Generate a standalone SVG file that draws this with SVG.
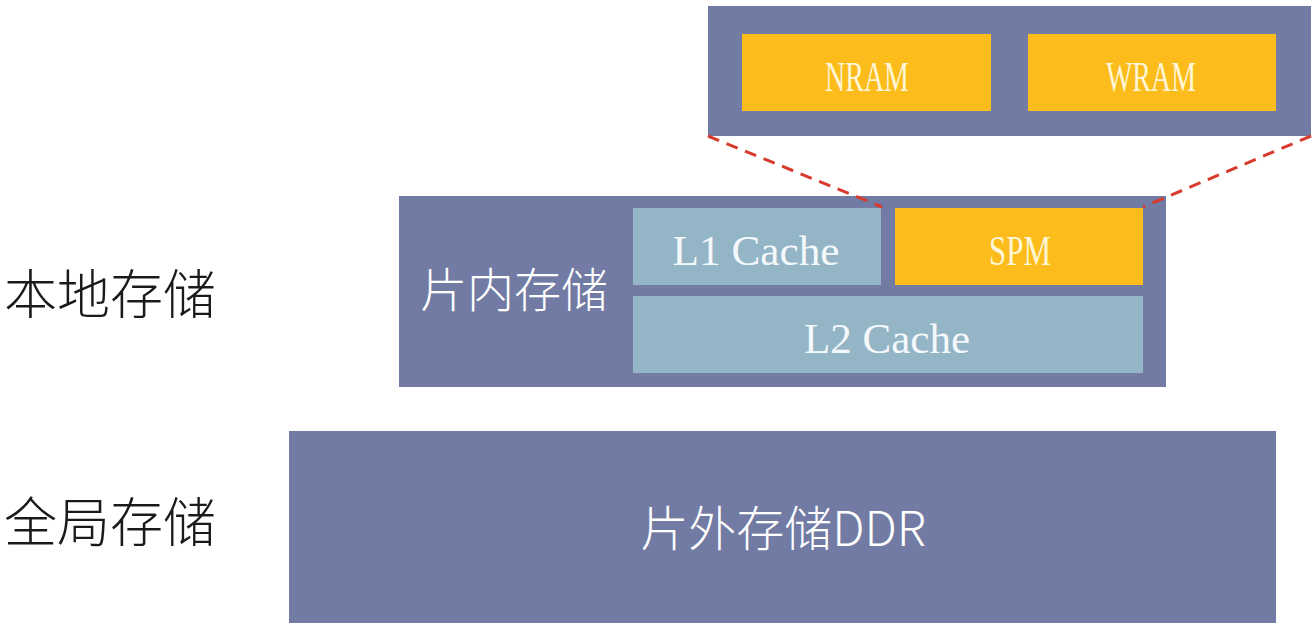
<svg xmlns="http://www.w3.org/2000/svg" width="1316" height="632" viewBox="0 0 1316 632">
<style>
.blue{fill:#717ba3}
.org{fill:#fbbc1c}
.lb{fill:#93b5c6}
.ser{font-family:"Liberation Serif","DejaVu Serif",serif;font-size:42px;text-anchor:middle}
.cw{fill:#fff6d6}
.ww{fill:#f4f8fb}
.cjk{font-family:"Noto Sans CJK SC","Noto Sans",sans-serif;font-weight:300}
.dash{stroke:#d93a2e;stroke-width:3;stroke-dasharray:12 8;fill:none}
</style>
<rect width="1316" height="632" fill="#ffffff"/>
<g id="label-local"><text class="cjk" x="4" y="314" font-size="53" fill="#1a1a1a">本地存储</text></g>
<g id="label-global"><text class="cjk" x="4" y="542" font-size="53" fill="#1a1a1a">全局存储</text></g>
<g id="spm-detail">
<rect class="blue" x="708" y="6" width="603" height="130"/>
<g id="nram"><rect class="org" x="742" y="34" width="249" height="77"/><text class="ser cw" x="867" y="91" textLength="84" lengthAdjust="spacingAndGlyphs">NRAM</text></g>
<g id="wram"><rect class="org" x="1028" y="34" width="248" height="77"/><text class="ser cw" x="1151" y="91" textLength="90" lengthAdjust="spacingAndGlyphs">WRAM</text></g>
</g>
<g id="onchip">
<rect class="blue" x="399" y="196" width="767" height="191"/>
<text class="cjk" x="420" y="307" font-size="47" fill="#ffffff">片内存储</text>
<g id="l1"><rect class="lb" x="633" y="208" width="248" height="77"/><text class="ser ww" x="756" y="265" textLength="167" lengthAdjust="spacingAndGlyphs">L1 Cache</text></g>
<g id="spm"><rect class="org" x="895" y="208" width="248" height="77"/><text class="ser cw" x="1020" y="265" textLength="62" lengthAdjust="spacingAndGlyphs">SPM</text></g>
<g id="l2"><rect class="lb" x="633" y="296" width="510" height="77"/><text class="ser ww" x="887" y="353" textLength="166" lengthAdjust="spacingAndGlyphs">L2 Cache</text></g>
</g>
<g id="ddr">
<rect class="blue" x="289" y="431" width="987" height="192"/>
<text class="cjk" x="783" y="546" font-size="48" fill="#ffffff" text-anchor="middle">片外存储DDR</text>
</g>
<g id="connectors">
<line class="dash" x1="708" y1="136" x2="882" y2="207"/>
<line class="dash" x1="1311" y1="136" x2="1143" y2="207"/>
</g>
</svg>
